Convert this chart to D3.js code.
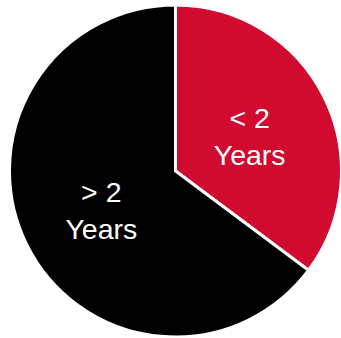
<!DOCTYPE html>
<html>
<head>
<meta charset="utf-8">
<script src="https://cdn.jsdelivr.net/npm/d3@7"></script>
<style>
  html, body { margin: 0; padding: 0; background: #fff; }
  svg { display: block; }
</style>
</head>
<body>
<svg id="chart"></svg>
<script>
// data
const categories = ["< 2 Years", "> 2 Years"];
const labelLines = [["< 2", "Years"], ["> 2", "Years"]];
const values = [35.2, 64.8];
const colors = ["#d10a30", "#000000"];

function init() {
    const width = 341;
    const height = 338;
    const cx = 175.5;
    const cy = 171;
    const radius = 166;

    const svg = d3.select("#chart")
        .attr("width", width)
        .attr("height", height);

    const g = svg.append("g")
        .attr("transform", `translate(${cx}, ${cy})`);

    const data = categories.map((c, i) => ({ name: c, value: values[i], lines: labelLines[i], color: colors[i] }));

    const pie = d3.pie().sort(null).value(d => d.value);
    const arc = d3.arc().innerRadius(0).outerRadius(radius);
    const labelArc = d3.arc().innerRadius(radius * 0.5).outerRadius(radius * 0.5);

    //slices
    g.selectAll("path.slice").data(pie(data)).enter()
        .append("path")
        .attr("class", "slice")
        .attr("d", arc)
        .attr("fill", d => d.data.color)
        .attr("stroke", "#ffffff")
        .attr("stroke-width", 3)
        .attr("stroke-linejoin", "miter");

    //labels
    const lineH = 37;
    const labels = g.selectAll("text.label").data(pie(data)).enter()
        .append("text")
        .attr("class", "label")
        .attr("transform", d => `translate(${labelArc.centroid(d)})`)
        .attr("text-anchor", "middle")
        .attr("fill", "#ffffff")
        .style("font-family", "'Liberation Sans', Arial, sans-serif")
        .style("font-size", "28.5px");

    labels.selectAll("tspan").data(d => d.data.lines).enter()
        .append("tspan")
        .attr("x", 0)
        .attr("y", (l, i) => (i - 0.5) * lineH + 12.5)
        .text(l => l);
}

window.onload = init;
</script>
</body>
</html>
